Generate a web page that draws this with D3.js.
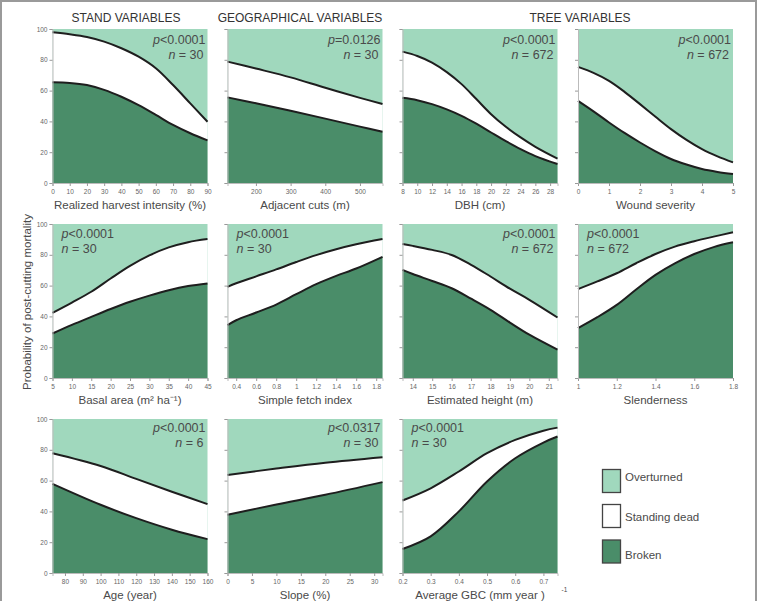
<!DOCTYPE html>
<html><head><meta charset="utf-8">
<script src="https://cdn.jsdelivr.net/npm/d3@7"></script>
<style>body{margin:0;background:#fff}svg{display:block}</style>
</head><body><svg id="c" width="758" height="601"></svg>
<script>
// ---- data (percent, cumulative boundaries) ----
const harvestX = [0,10,20,30,40,50,60,70,80,90];
const harvestBroken = [65.4,65,63.6,60.5,56,50.5,44.2,37.7,32.3,27.7];
const harvestDead = [97.9,96.6,94.8,91.8,87.5,82,74.5,63.6,51.7,39.8];
const harvestTicks = [0,10,20,30,40,50,60,70,80,90];

const cutsX = [118,200,300,400,500,565];
const cutsBroken = [55.6,51.8,46.9,41.8,36.6,33.3];
const cutsDead = [78.8,74.3,68.6,61.8,55.3,51.3];
const cutsTicks = [200,300,400,500];

const dbhX = [8,10,12,14,16,18,20,22,24,26,29];
const dbhBroken = [55.3,53.8,51.2,47.8,43.6,38.5,32.8,27.2,22,17.5,12.3];
const dbhDead = [85.3,82.5,78.2,72,64.2,54.5,44.7,36.5,29.6,23.5,15.8];
const dbhTicks = [8,10,12,14,16,18,20,22,24,26,28];

const woundX = [0,0.5,1,1.5,2,2.5,3,3.5,4,4.5,5];
const woundBroken = [53.3,46.5,39.3,32.5,26.3,20.6,15.6,12,9.1,7.2,5.8];
const woundDead = [75.4,71.5,66.3,59.2,51.2,43,35,28,22,17.3,13.4];
const woundTicks = [0,1,2,3,4,5];

const basalX = [5,10,15,20,25,30,35,40,45];
const basalBroken = [28.9,34.5,39.7,44.8,49.5,53.5,57,59.7,61.4];
const basalDead = [42.3,49,56,64.6,72.8,79.6,84.8,88.2,90.2];
const basalTicks = [5,10,15,20,25,30,35,40,45];

const fetchX = [0.313,0.4,0.6,0.8,1.0,1.2,1.4,1.6,1.863];
const fetchBroken = [34.3,37.5,42.5,47.7,54.4,60.9,66.3,71.1,78.7];
const fetchDead = [59.2,61.5,66,70.5,75.3,79.8,83.6,86.8,90.2];
const fetchTicks = [0.4,0.6,0.8,1,1.2,1.4,1.6,1.8];

const heightX = [13.47,14,15,16,17,18,19,20,21.45];
const heightBroken = [70.2,67.5,63,58.3,51.5,44.3,36,28.1,18.4];
const heightDead = [87,85.8,83.2,79.9,73.5,65.9,58,50.8,39.3];
const heightTicks = [14,15,16,17,18,19,20,21];

const slenderX = [1,1.1,1.2,1.3,1.4,1.5,1.6,1.7,1.8];
const slenderBroken = [32.4,39.5,47.5,57.5,67,74.5,80.5,85,88.1];
const slenderDead = [57.7,62.7,68,74.5,80.5,85.3,88.8,91.8,94.6];
const slenderTicks = [1,1.2,1.4,1.6,1.8];

const ageX = [73,100,120,140,160];
const ageBroken = [57.9,44.3,35.6,28.1,22];
const ageDead = [77.8,69.5,61.1,52.8,44.7];
const ageTicks = [80,90,100,110,120,130,140,150,160];

const slopeX = [0,10,20,31.7];
const slopeBroken = [37.8,44.5,50.8,59];
const slopeDead = [63.7,67.8,71.6,75.2];
const slopeTicks = [0,5,10,15,20,25,30];

const gbcX = [0.2,0.3,0.4,0.5,0.6,0.7,0.75];
const gbcBroken = [15.6,23.8,40,59.4,74.5,84.7,88.6];
const gbcDead = [47.1,55,65.9,77.8,86.4,92.4,94.4];
const gbcTicks = [0.2,0.3,0.4,0.5,0.6,0.7];

const yTicks = [0,20,40,60,80,100];
const axisTitles = ["Realized harvest intensity (%)","Adjacent cuts (m)","DBH (cm)","Wound severity",
  "Basal area (m² ha⁻¹)","Simple fetch index","Estimated height (m)","Slenderness",
  "Age (year)","Slope (%)","Average GBC (mm year  )"];
const pValues = ["<0.0001","=0.0126","<0.0001","<0.0001","<0.0001","<0.0001","<0.0001","<0.0001","<0.0001","<0.0317","<0.0001"];
const nValues = ["30","30","672","672","30","30","672","672","6","30","30"];
const groupHeaders = ["STAND VARIABLES","GEOGRAPHICAL VARIABLES","TREE VARIABLES"];
const legendLabels = ["Overturned","Standing dead","Broken"];

// ---- layout ----
const colors = {over:"#a0d8bd", dead:"#ffffff", broken:"#4a8d69", line:"#1e1e1e", text:"#4a4a4a"};
const panelsX = [harvestX,cutsX,dbhX,woundX,basalX,fetchX,heightX,slenderX,ageX,slopeX,gbcX];
const panelsB = [harvestBroken,cutsBroken,dbhBroken,woundBroken,basalBroken,fetchBroken,heightBroken,slenderBroken,ageBroken,slopeBroken,gbcBroken];
const panelsD = [harvestDead,cutsDead,dbhDead,woundDead,basalDead,fetchDead,heightDead,slenderDead,ageDead,slopeDead,gbcDead];
const panelsT = [harvestTicks,cutsTicks,dbhTicks,woundTicks,basalTicks,fetchTicks,heightTicks,slenderTicks,ageTicks,slopeTicks,gbcTicks];
const annotAlign = ["r","r","r","r","l","l","r","l","r","r","l"];

const svg = d3.select("#c");
svg.append("rect").attr("x",1).attr("y",1).attr("width",755).attr("height",610)
  .attr("fill","none").attr("stroke","#9a9a9a").attr("stroke-width",2);

const W = 155, H = 154;
const lefts = [52.5,227.5,402.5,578];
const tops = [29,224,419];
const font = "Liberation Sans, Arial, Helvetica, sans-serif";

panelsX.forEach((xs,i)=>{
  const col = i%4, row = Math.floor(i/4);
  const L = lefts[col], T = tops[row];
  const x = d3.scaleLinear().domain([xs[0], xs[xs.length-1]]).range([0,W]);
  const y = d3.scaleLinear().domain([0,100]).range([H,0]);
  const g = svg.append("g").attr("transform",`translate(${L},${T})`);
  g.append("rect").attr("width",W).attr("height",H).attr("fill",colors.over);
  const pts = xs.map((v,k)=>({x:v,b:panelsB[i][k],d:panelsD[i][k]}));
  const curve = d3.curveCatmullRom.alpha(0.5);
  g.append("path").datum(pts).attr("fill",colors.dead)
    .attr("d",d3.area().x(p=>x(p.x)).y0(H).y1(p=>y(p.d)).curve(curve));
  g.append("path").datum(pts).attr("fill",colors.broken)
    .attr("d",d3.area().x(p=>x(p.x)).y0(H).y1(p=>y(p.b)).curve(curve));
  ["d","b"].forEach(key=>{
    g.append("path").datum(pts).attr("fill","none").attr("stroke",colors.line)
      .attr("stroke-width",2).attr("d",d3.line().x(p=>x(p.x)).y(p=>y(p[key])).curve(curve));
  });
  // x axis
  const fmt = v => String(+v.toFixed(2));
  const xa = g.append("g").attr("transform",`translate(0,${H})`)
    .call(d3.axisBottom(x).tickValues(panelsT[i]).tickSize(3).tickPadding(3).tickFormat(fmt));
  xa.select(".domain").attr("stroke","#bbb");
  xa.selectAll(".tick line").attr("stroke","#999");
  xa.selectAll("text").attr("font-family",font).attr("font-size",6.5).attr("fill","#666");
  // y axis
  const ya = g.append("g").call(d3.axisLeft(y).tickValues(yTicks).tickSize(3).tickPadding(2)
    .tickFormat(col===0 ? d3.format("d") : ""));
  ya.select(".domain").attr("stroke","#bbb");
  ya.selectAll(".tick line").attr("stroke","#999");
  ya.selectAll("text").attr("font-family",font).attr("font-size",6.5).attr("fill","#666");
  // axis title
  g.append("text").attr("x",W/2).attr("y",H+26).attr("text-anchor","middle")
    .attr("font-family",font).attr("font-size",11.5).attr("fill",colors.text).text(axisTitles[i]);
  if(i===10){
    g.append("text").attr("x",W+4).attr("y",H+19).attr("font-family",font)
      .attr("font-size",6.5).attr("fill",colors.text).text("-1");
  }
  // annotation
  const right = annotAlign[i]==="r";
  const ax = right ? W-2 : 9;
  const ay = row===0 ? 15 : (row===1 ? 14 : 13);
  const t1 = g.append("text").attr("x",ax).attr("y",ay).attr("text-anchor",right?"end":"start")
    .attr("font-family",font).attr("font-size",12.5).attr("fill",colors.text);
  t1.append("tspan").attr("font-style","italic").text("p");
  t1.append("tspan").text(pValues[i]);
  const t2 = g.append("text").attr("x",right?ax-2:ax).attr("y",ay+14.5).attr("text-anchor",right?"end":"start")
    .attr("font-family",font).attr("font-size",12.5).attr("fill",colors.text);
  t2.append("tspan").attr("font-style","italic").text("n");
  t2.append("tspan").text(" = "+nValues[i]);
});

// group headers
const headerX = [126,300,580];
groupHeaders.forEach((h,k)=>{
  svg.append("text").attr("x",headerX[k]).attr("y",21.5).attr("text-anchor","middle")
    .attr("font-family",font).attr("font-size",12).attr("fill","#333").text(h);
});

// y title
svg.append("text").attr("transform","translate(30.5,302) rotate(-90)").attr("text-anchor","middle")
  .attr("font-family",font).attr("font-size",11.5).attr("fill",colors.text)
  .text("Probability of post-cutting mortality");

// legend
const legFill = [colors.over,colors.dead,colors.broken];
const legY = [469.5,504.5,540];
const legBase = [480.5,520.7,559.3];
legendLabels.forEach((l,k)=>{
  svg.append("rect").attr("x",602.5).attr("y",legY[k]).attr("width",18).attr("height",23)
    .attr("fill",legFill[k]).attr("stroke","#444").attr("stroke-width",1.3);
  svg.append("text").attr("x",625).attr("y",legBase[k]).attr("font-family",font)
    .attr("font-size",11.5).attr("fill",colors.text).text(l);
});
</script></body></html>
